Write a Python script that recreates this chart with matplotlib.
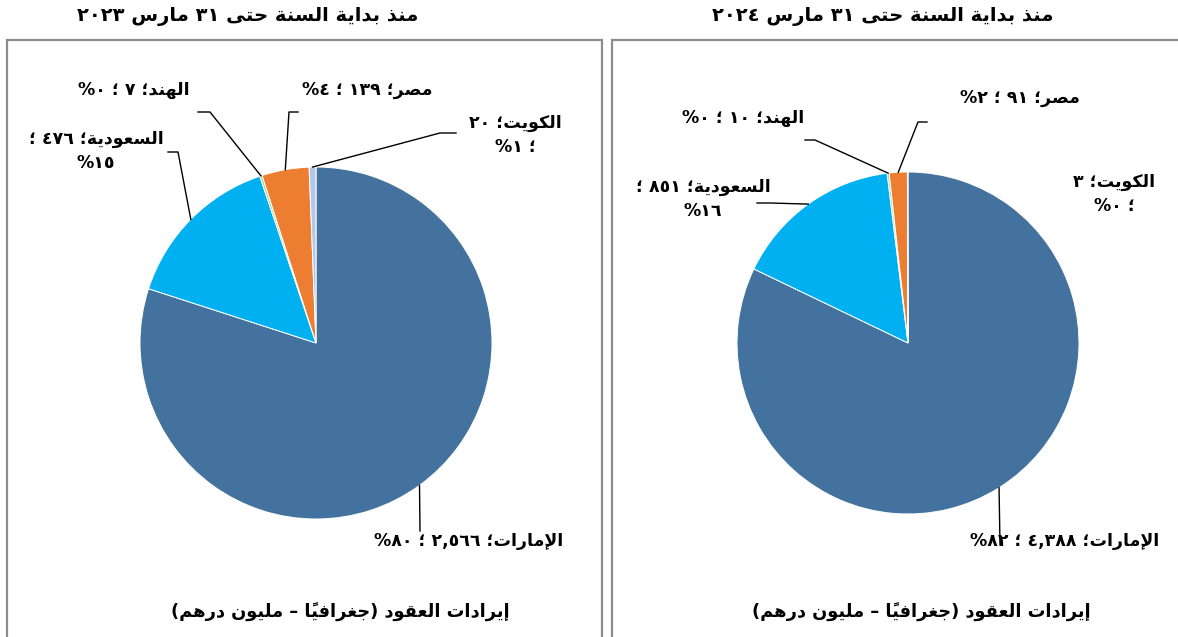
import unicodedata
import numpy as np
import matplotlib
matplotlib.use("Agg")
import matplotlib.pyplot as plt
from matplotlib.lines import Line2D
from matplotlib.patches import Rectangle
from matplotlib.transforms import IdentityTransform

# ---------------- data ----------------
countries = ["الإمارات", "السعودية", "الهند", "مصر", "الكويت"]
values_2023 = [2566, 476, 7, 139, 20]
pcts_2023 = ["٨٠", "١٥", "٠", "٤", "١"]
values_2024 = [4388, 851, 10, 91, 3]
pcts_2024 = ["٨٢", "١٦", "٠", "٢", "٠"]
colors = ["#43729E", "#00B0F0", "#A9D08E", "#ED7D31", "#B4C7E7"]
title_2023 = "منذ بداية السنة حتى ٣١ مارس ٢٠٢٣"
title_2024 = "منذ بداية السنة حتى ٣١ مارس ٢٠٢٤"
bottom_title = "إيرادات العقود (جغرافياً – مليون درهم)"

# ---------------- minimal Arabic shaping + RTL ordering ----------------
DUAL = {'ئ': 0xFE89, 'ب': 0xFE8F, 'ت': 0xFE95, 'ث': 0xFE99, 'ج': 0xFE9D, 'ح': 0xFEA1,
        'خ': 0xFEA5, 'س': 0xFEB1, 'ش': 0xFEB5, 'ص': 0xFEB9, 'ض': 0xFEBD, 'ط': 0xFEC1,
        'ظ': 0xFEC5, 'ع': 0xFEC9, 'غ': 0xFECD, 'ف': 0xFED1, 'ق': 0xFED5, 'ك': 0xFED9,
        'ل': 0xFEDD, 'م': 0xFEE1, 'ن': 0xFEE5, 'ه': 0xFEE9, 'ي': 0xFEF1}
RIGHT = {'آ': 0xFE81, 'أ': 0xFE83, 'ؤ': 0xFE85, 'إ': 0xFE87, 'ا': 0xFE8D, 'ة': 0xFE93,
         'د': 0xFEA9, 'ذ': 0xFEAB, 'ر': 0xFEAD, 'ز': 0xFEAF, 'و': 0xFEED, 'ى': 0xFEEF}
LAMALEF = {'آ': 0xFEF5, 'أ': 0xFEF7, 'إ': 0xFEF9, 'ا': 0xFEFB}
DIGITS = set("0123456789٠١٢٣٤٥٦٧٨٩")


def shape(s):
    units = []
    i = 0
    while i < len(s):
        c = s[i]
        if c == 'ل' and i + 1 < len(s) and s[i + 1] in LAMALEF:
            units.append({'kind': 'L', 'base': LAMALEF[s[i + 1]]})
            i += 2
            continue
        if unicodedata.category(c) == 'Mn':
            units.append({'kind': 'M', 'ch': c})
        elif c in DUAL:
            units.append({'kind': 'D', 'base': DUAL[c]})
        elif c in RIGHT:
            units.append({'kind': 'R', 'base': RIGHT[c]})
        elif c == 'ـ':
            units.append({'kind': 'T', 'ch': c})
        else:
            units.append({'kind': 'N', 'ch': c})
        i += 1

    def neighbour(k, step):
        j = k + step
        while 0 <= j < len(units) and units[j]['kind'] == 'M':
            j += step
        return units[j] if 0 <= j < len(units) else None

    out = []
    for k, u in enumerate(units):
        kind = u['kind']
        if kind in ('M', 'N', 'T'):
            out.append(u['ch'])
            continue
        p = neighbour(k, -1)
        n = neighbour(k, 1)
        jp = p is not None and p['kind'] in ('D', 'T')
        jn = kind == 'D' and n is not None and n['kind'] in ('D', 'R', 'L', 'T')
        b = u['base']
        if kind in ('R', 'L'):
            out.append(chr(b + 1) if jp else chr(b))
        else:
            if jp and jn:
                out.append(chr(b + 3))
            elif jp:
                out.append(chr(b + 1))
            elif jn:
                out.append(chr(b + 2))
            else:
                out.append(chr(b))
    return ''.join(out)


def visual(s):
    tokens = []
    i = 0
    while i < len(s):
        c = s[i]
        if c in DIGITS:
            j = i
            while j < len(s) and (s[j] in DIGITS or (s[j] in ',.٬٫' and j + 1 < len(s) and s[j + 1] in DIGITS)):
                j += 1
            tokens.append(s[i:j])
            i = j
            continue
        j = i + 1
        while j < len(s) and unicodedata.category(s[j]) == 'Mn':
            j += 1
        tok = s[i:j]
        tok = {'(': ')', ')': '('}.get(tok, tok)
        tokens.append(tok)
        i = j
    return ''.join(reversed(tokens))


def ar(s):
    return '\n'.join(visual(shape(line)) for line in s.split('\n'))


def fmt(v):
    t = f"{v:,}"
    return t.translate(str.maketrans("0123456789", "٠١٢٣٤٥٦٧٨٩"))


# ---------------- figure ----------------
W, H = 1178, 637
plt.rcParams['font.family'] = ['DejaVu Sans']
fig = plt.figure(figsize=(W / 100, H / 100), dpi=100)
fig.patch.set_facecolor('white')


def fpt(x, y):
    return (x / W, 1 - y / H)


def disp(x, y):
    return (x, H - y)


# panel borders
for x0, x1 in [(7, 602), (612, 1190)]:
    fig.add_artist(Rectangle(fpt(x0, 660), (x1 - x0) / W, (660 - 40) / H,
                             transform=fig.transFigure, fill=False,
                             edgecolor='#8c8c8c', linewidth=1.6))

panels = [
    dict(values=values_2023, pcts=pcts_2023, title=title_2023, cx=316, cy=343, r=176,
         tx=248, bx=340,
         labels=[
             dict(pos=(469, 541), split=None, path=[(420, 531)]),
             dict(pos=(96, 151), split=True, path=[(178, 152), (168, 152)]),
             dict(pos=(134, 90), split=False, path=[(210, 112), (198, 112)]),
             dict(pos=(367, 90), split=False, path=[(289, 112), (298, 112)]),
             dict(pos=(515, 135), split=True, path=[(440, 133), (456, 133)]),
         ]),
    dict(values=values_2024, pcts=pcts_2024, title=title_2024, cx=908, cy=343, r=171,
         tx=883, bx=921,
         labels=[
             dict(pos=(1065, 541), split=None, path=[(1000, 545)]),
             dict(pos=(703, 199), split=True, path=[(770, 203), (757, 203)]),
             dict(pos=(743, 118), split=False, path=[(815, 140), (805, 140)]),
             dict(pos=(1020, 98), split=False, path=[(918, 122), (927, 122)]),
             dict(pos=(1114, 194), split=True, path=None),
         ]),
]

for pnl in panels:
    cx, cy, r = pnl['cx'], pnl['cy'], pnl['r']
    ax = fig.add_axes([(cx - r) / W, (H - cy - r) / H, 2 * r / W, 2 * r / H])
    wedges, _ = ax.pie(pnl['values'], colors=colors, startangle=90, counterclock=False,
                       radius=1, wedgeprops=dict(edgecolor='white', linewidth=0.7))
    ax.set_xlim(-1, 1)
    ax.set_ylim(-1, 1)
    ax.set_aspect('equal')
    ax.axis('off')

    fig.text(*fpt(pnl['tx'], 17), ar(pnl['title']), ha='center', va='center',
             fontsize=14, fontweight='bold')
    fig.text(*fpt(pnl['bx'], 612), ar(bottom_title), ha='center', va='center',
             fontsize=12.8, fontweight='bold')

    fig.canvas.draw()
    for i, (w, lab) in enumerate(zip(wedges, pnl['labels'])):
        name, val, pct = countries[i], pnl['values'][i], pnl['pcts'][i]
        if lab['split'] is True:
            if i == 4:
                txt = f"{name}؛ {fmt(val)}\n؛ {pct}%"
            else:
                txt = f"{name}؛ {fmt(val)} ؛\n{pct}%"
        else:
            txt = f"{name}؛ {fmt(val)} ؛ {pct}%"
        fig.text(*fpt(*lab['pos']), ar(txt), ha='center', va='center',
                 fontsize=12.5, fontweight='bold', linespacing=1.45, multialignment='center')
        if lab['path']:
            th = np.deg2rad((w.theta1 + w.theta2) / 2)
            ax_pt = ax.transData.transform((np.cos(th), np.sin(th)))
            pts = [tuple(ax_pt)] + [disp(*p) for p in lab['path']]
            xs, ys = zip(*pts)
            fig.add_artist(Line2D(xs, ys, transform=IdentityTransform(),
                                  color='black', linewidth=1.0))

fig.savefig('out.png', dpi=100, facecolor='white')
